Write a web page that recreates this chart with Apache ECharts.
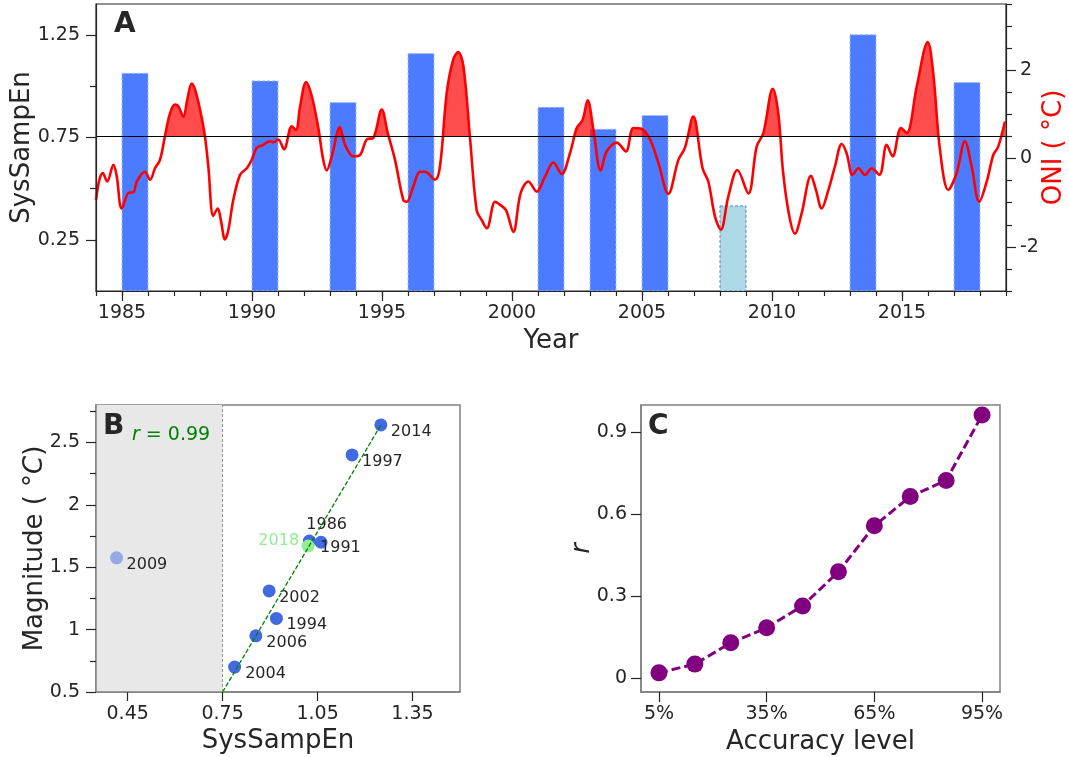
<!DOCTYPE html>
<html><head><meta charset="utf-8">
<script src="https://cdn.jsdelivr.net/npm/echarts@6/dist/echarts.min.js"></script>
<style>html,body{margin:0;padding:0;background:#fff}#chart{width:1069px;height:757px}</style>
</head><body><div id="chart"></div>
<script>
// ---------- Panel A data ----------
const barStartYears = [1985, 1990, 1993, 1996, 2001, 2003, 2005, 2008, 2013, 2017];
const barSysSampEn  = [1.062, 1.025, 0.919, 1.158, 0.896, 0.789, 0.856, 0.415, 1.25, 1.017];
const oniYears = [1984.00,1984.13,1984.26,1984.43,1984.67,1984.80,1984.99,1985.28,1985.43,1985.57,1985.88,1986.08,1986.27,1986.46,1986.65,1986.85,1987.04,1987.17,1987.36,1987.51,1987.68,1987.81,1988.00,1988.19,1988.32,1988.51,1988.68,1988.80,1988.96,1989.09,1989.28,1989.54,1989.80,1989.99,1990.18,1990.43,1990.69,1990.82,1991.01,1991.23,1991.53,1991.69,1991.85,1992.08,1992.30,1992.55,1992.74,1992.87,1993.07,1993.38,1993.58,1993.90,1994.15,1994.41,1994.67,1994.99,1995.22,1995.50,1995.82,1995.95,1996.20,1996.46,1996.65,1997.04,1997.23,1997.49,1997.74,1997.93,1998.13,1998.38,1998.64,1998.83,1999.03,1999.35,1999.54,1999.77,2000.05,2000.33,2000.63,2000.95,2001.27,2001.59,2001.91,2002.23,2002.49,2002.72,2002.91,2003.13,2003.41,2003.64,2004.03,2004.38,2004.67,2004.99,2005.31,2005.63,2006.01,2006.40,2006.65,2006.97,2007.33,2007.55,2007.81,2008.03,2008.32,2008.67,2009.09,2009.41,2009.67,2010.03,2010.24,2010.43,2010.67,2010.88,2011.14,2011.50,2011.69,2011.91,2012.17,2012.42,2012.68,2012.87,2013.10,2013.32,2013.58,2013.83,2014.13,2014.41,2014.64,2014.96,2015.18,2015.57,2015.99,2016.20,2016.46,2016.78,2017.10,2017.42,2017.68,2017.97,2018.26,2018.51,2018.70,2018.96];
const oniValues = [-0.94,-0.48,-0.33,-0.52,-0.14,-0.41,-1.13,-0.77,-0.77,-0.52,-0.30,-0.48,-0.22,-0.03,0.50,1.03,1.22,1.18,0.95,1.33,1.70,1.56,1.11,0.50,-0.18,-1.30,-1.13,-1.39,-1.83,-1.62,-0.94,-0.37,-0.22,-0.03,0.24,0.31,0.39,0.37,0.43,0.21,0.73,0.65,1.18,1.73,1.41,0.69,-0.03,-0.27,0.05,0.71,0.31,0.05,0.08,0.43,0.47,1.11,0.58,-0.03,-0.94,-0.98,-0.64,-0.30,-0.30,-0.48,-0.18,1.49,2.24,2.41,2.09,0.50,-1.17,-1.39,-1.58,-0.98,-1.05,-1.17,-1.66,-0.79,-0.52,-0.75,-0.41,-0.09,-0.35,0.12,0.69,0.88,1.32,0.65,-0.27,0.16,0.36,0.16,0.69,0.67,0.43,-0.10,-0.80,-0.03,0.24,0.95,-0.22,-0.52,-1.32,-1.61,-0.86,-0.26,-0.79,0.27,0.58,1.58,1.03,-0.33,-1.32,-1.70,-1.24,-0.39,-0.71,-1.13,-0.71,-0.18,0.33,0.12,-0.37,-0.22,-0.37,-0.22,-0.37,0.31,0.05,0.69,0.58,1.64,2.64,1.94,0.20,-0.71,-0.33,0.39,-0.18,-0.98,-0.52,0.08,0.27,0.84];
const oniThreshold = 0.5;
const yearMajorTicks = [1985, 1990, 1995, 2000, 2005, 2010, 2015];
const yearMinorTicks = [1984,1985,1986,1987,1988,1989,1990,1991,1992,1993,1994,1995,1996,1997,1998,1999,2000,2001,2002,2003,2004,2005,2006,2007,2008,2009,2010,2011,2012,2013,2014,2015,2016,2017,2018,2019];
const sysMajorTicks = [0.25, 0.75, 1.25];
const sysMinorTicks = [0.5, 1.0];
const oniMajorTicks = [-2, 0, 2];
const oniMinorTicks = [-3, -2.5, -1.5, -1, -0.5, 0.5, 1, 1.5, 2.5, 3, 3.5];

// ---------- Panel B data ----------
const eventYears      = ['2014', '1997', '1986', '1991', '2018', '2009', '2002', '1994', '2006', '2004'];
const eventSysSampEn  = [1.25, 1.159, 1.024, 1.061, 1.02, 0.415, 0.897, 0.92, 0.855, 0.788];
const eventMagnitude  = [2.64, 2.40, 1.71, 1.70, 1.67, 1.575, 1.31, 1.09, 0.95, 0.70];
const fitSysSampEn    = [0.75, 1.25];
const fitMagnitude    = [0.50, 2.64];
const bXTicks = [0.45, 0.75, 1.05, 1.35];
const bYMajorTicks = [0.5, 1, 1.5, 2, 2.5];
const bYMinorTicks = [0.75, 1.25, 1.75, 2.25, 2.75];

// ---------- Panel C data ----------
const accuracyLevels = [5, 15, 25, 35, 45, 55, 65, 75, 85, 95];
const accuracyR      = [0.02, 0.052, 0.13, 0.185, 0.265, 0.39, 0.558, 0.665, 0.724, 0.963];
const cXTicks = [5, 35, 65, 95];
const cYTicks = [0, 0.3, 0.6, 0.9];

// ---------- styles ----------
const FONT = 'DejaVu Sans';
const TXT = '#262626';
const DARK = '#262626';
const GRAYB = '#808080';
const barSpan = 1;
const outlierBarYear = 2008;
const labelPlacement = {
  '2014': [10, 7, 'left'], '1997': [10, 7, 'left'], '1986': [-3, -16, 'left'],
  '1991': [-1, 5.5, 'left'], '2018': [-9, -5, 'right'], '2009': [10, 7, 'left'],
  '2002': [10, 6.5, 'left'], '1994': [10, 6.5, 'left'], '2006': [10.5, 6.5, 'left'],
  '2004': [10.5, 6.5, 'left']
};
function pointColor(y) {
  if (y === '2009') return 'rgba(65,105,225,0.5)';
  if (y === '2018') return '#90ee90';
  return '#4169e1';
}

const tickLS = {color: DARK, width: 1.2};
const lblBase = {fontSize: 19, color: TXT, fontFamily: FONT};
const nameBase = {fontSize: 26, color: TXT, fontFamily: FONT};

const oniData = oniYears.map((x, i) => [x, oniValues[i]]);

const chart = echarts.init(document.getElementById('chart'));
chart.setOption({
  animation: false,
  textStyle: {fontFamily: FONT},
  grid: [
    {left: 96, top: 4, width: 910, height: 287, show: true, borderColor: DARK, borderWidth: 1.2, containLabel: false, outerBoundsMode: 'none'},
    {left: 96, top: 405, width: 364, height: 287, show: true, borderColor: GRAYB, borderWidth: 1.5, containLabel: false, outerBoundsMode: 'none'},
    {left: 641, top: 405, width: 359, height: 287, show: true, borderColor: GRAYB, borderWidth: 1.5, containLabel: false, outerBoundsMode: 'none'}
  ],
  xAxis: [
    {gridIndex: 0, type: 'value', min: 1984, max: 2019, position: 'bottom', z: 10, splitLine: {show: false},
     axisLine: {show: true, onZero: false, lineStyle: {color: DARK, width: 1.2}},
     axisTick: {show: true, length: 5, customValues: yearMinorTicks, lineStyle: tickLS},
     axisLabel: Object.assign({show: true, customValues: yearMajorTicks, margin: 13, formatter: v => String(v)}, lblBase),
     name: 'Year', nameLocation: 'middle', nameGap: 37, nameMoveOverlap: false, nameTextStyle: nameBase},
    {gridIndex: 0, type: 'value', min: 1984, max: 2019, position: 'bottom', z: 10, splitLine: {show: false},
     axisLine: {show: false, onZero: false},
     axisTick: {show: true, length: 10, customValues: yearMajorTicks, lineStyle: tickLS},
     axisLabel: {show: false}},
    {gridIndex: 1, type: 'value', min: 0.35, max: 1.5, position: 'bottom', z: 10, splitLine: {show: false},
     axisLine: {show: true, onZero: false, lineStyle: {color: GRAYB, width: 1.5}},
     axisTick: {show: true, length: 9, customValues: bXTicks, lineStyle: tickLS},
     axisLabel: Object.assign({show: true, customValues: bXTicks, margin: 13, formatter: v => v.toFixed(2)}, lblBase),
     name: 'SysSampEn', nameLocation: 'middle', nameGap: 36, nameMoveOverlap: false, nameTextStyle: nameBase},
    {gridIndex: 2, type: 'value', min: 0, max: 100, position: 'bottom', z: 10, splitLine: {show: false},
     axisLine: {show: true, onZero: false, lineStyle: {color: GRAYB, width: 1.5}},
     axisTick: {show: true, length: 10, customValues: cXTicks, lineStyle: tickLS},
     axisLabel: Object.assign({show: true, customValues: cXTicks, margin: 13, formatter: v => v + '%'}, lblBase),
     name: 'Accuracy level', nameLocation: 'middle', nameGap: 37, nameMoveOverlap: false, nameTextStyle: nameBase}
  ],
  yAxis: [
    {gridIndex: 0, type: 'value', min: 0, max: 1.4, position: 'left', z: 10, splitLine: {show: false},
     axisLine: {show: true, onZero: false, lineStyle: {color: DARK, width: 1.2}},
     axisTick: {show: true, length: 6, customValues: sysMinorTicks, lineStyle: tickLS},
     axisLabel: {show: false}},
    {gridIndex: 0, type: 'value', min: 0, max: 1.4, position: 'left', z: 10, splitLine: {show: false},
     axisLine: {show: false, onZero: false},
     axisTick: {show: true, length: 10, customValues: sysMajorTicks, lineStyle: tickLS},
     axisLabel: Object.assign({show: true, customValues: sysMajorTicks, margin: 16, formatter: v => v.toFixed(2)}, lblBase),
     name: 'SysSampEn', nameLocation: 'middle', nameGap: 61, nameRotate: 90, nameMoveOverlap: false, nameTextStyle: nameBase},
    {gridIndex: 0, type: 'value', min: -3, max: 3.5, position: 'right', z: 10, splitLine: {show: false},
     axisLine: {show: true, onZero: false, lineStyle: {color: DARK, width: 1.2}},
     axisTick: {show: true, length: 6, customValues: oniMinorTicks, lineStyle: tickLS},
     axisLabel: {show: false}},
    {gridIndex: 0, type: 'value', min: -3, max: 3.5, position: 'right', z: 10, splitLine: {show: false},
     axisLine: {show: false, onZero: false},
     axisTick: {show: true, length: 10, customValues: oniMajorTicks, lineStyle: tickLS},
     axisLabel: Object.assign({show: true, customValues: oniMajorTicks, margin: 14, formatter: v => String(v)}, lblBase),
     name: 'ONI ( °C)', nameLocation: 'middle', nameGap: 35, nameRotate: 90, nameMoveOverlap: false,
     nameTextStyle: {fontSize: 26, color: '#ff0000', fontFamily: FONT}},
    {gridIndex: 1, type: 'value', min: 0.5, max: 2.8, position: 'left', z: 10, splitLine: {show: false},
     axisLine: {show: true, onZero: false, lineStyle: {color: GRAYB, width: 1.5}},
     axisTick: {show: true, length: 6, customValues: bYMinorTicks, lineStyle: tickLS},
     axisLabel: {show: false}},
    {gridIndex: 1, type: 'value', min: 0.5, max: 2.8, position: 'left', z: 10, splitLine: {show: false},
     axisLine: {show: false, onZero: false},
     axisTick: {show: true, length: 10, customValues: bYMajorTicks, lineStyle: tickLS},
     axisLabel: Object.assign({show: true, customValues: bYMajorTicks, margin: 16, formatter: v => String(v)}, lblBase),
     name: 'Magnitude ( °{i|C})', nameLocation: 'middle', nameGap: 48, nameRotate: 90, nameMoveOverlap: false,
     nameTextStyle: Object.assign({rich: {i: {fontStyle: 'italic', fontSize: 26, color: TXT, fontFamily: FONT}}}, nameBase)},
    {gridIndex: 2, type: 'value', min: -0.05, max: 1.0, position: 'left', z: 10, splitLine: {show: false},
     axisLine: {show: true, onZero: false, lineStyle: {color: GRAYB, width: 1.5}},
     axisTick: {show: true, length: 10, customValues: cYTicks, lineStyle: tickLS},
     axisLabel: Object.assign({show: true, customValues: cYTicks, margin: 14, formatter: v => String(v)}, lblBase),
     name: '{i|r}', nameLocation: 'middle', nameGap: 46, nameRotate: 90, nameMoveOverlap: false,
     nameTextStyle: Object.assign({rich: {i: {fontStyle: 'italic', fontSize: 26, color: TXT, fontFamily: FONT}}}, nameBase)}
  ],
  visualMap: [{
    type: 'piecewise', show: false, seriesIndex: 1, dimension: 1,
    pieces: [
      {min: -10, max: oniThreshold, color: 'rgba(255,0,0,0)'},
      {min: oniThreshold, max: 10, color: 'rgba(255,0,0,0.7)'}
    ]
  }],
  series: [
    {type: 'custom', xAxisIndex: 0, yAxisIndex: 0, z: 2,
     data: barStartYears.map((y, i) => [y, barSysSampEn[i]]),
     renderItem: function (params, api) {
       const x0 = api.value(0), v = api.value(1);
       const p0 = api.coord([x0, v]);
       const p1 = api.coord([x0 + barSpan, 0]);
       const isOut = x0 === outlierBarYear;
       return {type: 'rect',
         shape: {x: p0[0], y: p0[1], width: p1[0] - p0[0], height: p1[1] - p0[1]},
         style: {fill: isOut ? '#add8e6' : '#4d7bff', stroke: isOut ? '#5b84c4' : '#a4bdf3',
                 lineWidth: 1, lineDash: [3, 2]}};
     }},
    {type: 'line', xAxisIndex: 0, yAxisIndex: 2, z: 3, data: oniData, smooth: 0.35, symbol: 'none',
     lineStyle: {width: 0, opacity: 0}, areaStyle: {origin: oniThreshold, opacity: 1}, silent: true},
    {type: 'line', xAxisIndex: 0, yAxisIndex: 2, z: 4, data: oniData, smooth: 0.35, symbol: 'none',
     lineStyle: {color: '#ff0000', width: 2.6}, itemStyle: {color: '#ff0000'},
     markLine: {silent: true, symbol: 'none', label: {show: false},
       lineStyle: {color: '#000', width: 1.2, type: 'solid'}, data: [{yAxis: oniThreshold}]}},
    // Panel B
    {type: 'line', xAxisIndex: 2, yAxisIndex: 5, z: 1, data: [], symbol: 'none',
     markArea: {silent: true, itemStyle: {color: '#e8e8e8'}, data: [[{xAxis: 0.35}, {xAxis: 0.75}]]},
     markLine: {silent: true, symbol: 'none', label: {show: false},
       lineStyle: {color: '#8c8c8c', width: 0.9, type: [3, 2]}, data: [{xAxis: 0.75}]}},
    {type: 'scatter', xAxisIndex: 2, yAxisIndex: 5, z: 3, symbolSize: 13,
     data: eventYears.map((y, i) => {
       const lp = labelPlacement[y];
       return {value: [eventSysSampEn[i], eventMagnitude[i]], name: y,
         itemStyle: {color: pointColor(y), opacity: 1},
         label: {show: true, position: 'inside', align: lp[2], verticalAlign: 'middle', offset: [lp[0], lp[1]],
           formatter: y, fontSize: 16, fontFamily: FONT, color: y === '2018' ? '#90ee90' : TXT}};
     })},
    {type: 'line', xAxisIndex: 2, yAxisIndex: 5, z: 4, symbol: 'none',
     data: fitSysSampEn.map((x, i) => [x, fitMagnitude[i]]),
     lineStyle: {color: '#008000', width: 1.3, type: [4.5, 2]}},
    // Panel C
    {type: 'line', xAxisIndex: 3, yAxisIndex: 6, z: 3,
     data: accuracyLevels.map((x, i) => [x, accuracyR[i]]),
     symbol: 'circle', symbolSize: 17,
     lineStyle: {color: '#800080', width: 3, type: [9, 4]}, itemStyle: {color: '#800080'}}
  ],
  graphic: [
    {type: 'text', x: 114, y: 25, z: 20, style: {text: 'A', fontSize: 28, fontWeight: 'bold', fontFamily: FONT, fill: TXT, verticalAlign: 'middle'}},
    {type: 'text', x: 103, y: 427, z: 20, style: {text: 'B', fontSize: 28, fontWeight: 'bold', fontFamily: FONT, fill: TXT, verticalAlign: 'middle'}},
    {type: 'text', x: 648, y: 427, z: 20, style: {text: 'C', fontSize: 28, fontWeight: 'bold', fontFamily: FONT, fill: TXT, verticalAlign: 'middle'}},
    {type: 'text', x: 132, y: 435, z: 20, style: {text: '{i|r} = 0.99', fontSize: 19, fontFamily: FONT, fill: '#008000', verticalAlign: 'middle',
      rich: {i: {fontStyle: 'italic', fontSize: 19, fontFamily: FONT, fill: '#008000', color: '#008000'}}}}
  ]
});
</script></body></html>
